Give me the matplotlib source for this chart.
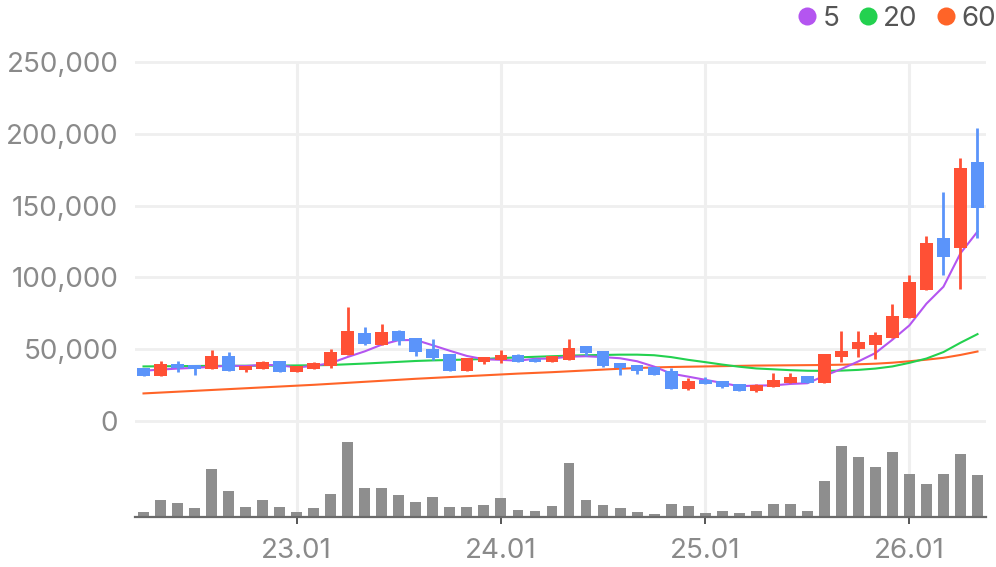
import matplotlib
matplotlib.use("Agg")
import matplotlib.pyplot as plt
from matplotlib.lines import Line2D

# ---- data ----
months = ["22.04","22.05","22.06","22.07","22.08","22.09","22.10","22.11","22.12","23.01",
          "23.02","23.03","23.04","23.05","23.06","23.07","23.08","23.09","23.10","23.11",
          "23.12","24.01","24.02","24.03","24.04","24.05","24.06","24.07","24.08","24.09",
          "24.10","24.11","24.12","25.01","25.02","25.03","25.04","25.05","25.06","25.07",
          "25.08","25.09","25.10","25.11","25.12","26.01","26.02","26.03","26.04","26.05"]

open_ = [36800, 31250, 39600, 38900, 36300, 45300, 35600, 36300, 41700, 34200,
         36300, 38200, 46300, 61100, 52800, 62500, 57600, 49800, 46500, 34900,
         41200, 42400, 45800, 43000, 41000, 42600, 52100, 48600, 40300, 38900,
         37500, 34700, 22400, 28500, 27800, 25700, 21000, 23400, 26200, 31200,
         26600, 44700, 50200, 53000, 57600, 71700, 91200, 127100, 120300, 180600]
high = [36800, 41700, 41700, 38900, 49300, 47900, 38400, 41700, 41700, 38200,
        41200, 50000, 79400, 65300, 67400, 63200, 57600, 56900, 46500, 43700,
        44400, 49300, 46500, 43700, 45100, 56900, 52100, 48600, 40300, 38900,
        37500, 36800, 29900, 30600, 27800, 25700, 25700, 33100, 33100, 31200,
        46500, 62500, 62500, 61800, 81200, 102000, 128500, 159700, 183300, 204200]
low = [31250, 31250, 34200, 31900, 36300, 34900, 34000, 36300, 34200, 34200,
       36300, 37000, 46300, 52800, 52800, 53000, 45300, 42800, 34900, 34900,
       39800, 40500, 41200, 41200, 41000, 42600, 45100, 37700, 32200, 32900,
       32200, 22400, 21700, 25900, 23100, 21000, 20300, 23400, 26200, 26600,
       26600, 41200, 44700, 43300, 57600, 71700, 91200, 101600, 91900, 127300]
close = [31250, 39600, 36800, 36000, 45300, 34900, 38400, 41000, 34200, 38200,
         40300, 47900, 62500, 53700, 61800, 55800, 48100, 44000, 34900, 43700,
         44400, 45800, 41200, 41200, 45100, 50700, 47200, 38400, 37000, 34900,
         32200, 22400, 28000, 25900, 23800, 21000, 25000, 28500, 30600, 26600,
         46500, 48800, 54900, 59700, 72900, 96500, 124300, 114100, 176400, 148100]

ma5 = [35000, 35800, 36500, 37000, 37800, 38500, 38300, 39100, 38800, 37300,
       38400, 40300, 44600, 48500, 53200, 56300, 56400, 52700, 48900, 45300,
       43000, 42600, 42000, 43300, 43500, 44800, 45100, 44500, 43700, 41600,
       37900, 33000, 30900, 28700, 26500, 24200, 24700, 24800, 25800, 26300,
       31400, 36200, 41500, 47300, 56600, 66600, 81700, 93500, 116800, 131900]
ma20 = [38000, 38100, 38200, 38300, 38400, 38400, 38500, 38500, 38600, 38700,
        38800, 39000, 39500, 40000, 40600, 41200, 41800, 42200, 42500, 42800,
        43200, 43800, 44300, 44700, 45100, 45500, 45800, 46000, 46200, 46200,
        45800, 44500, 42600, 41000, 39300, 37800, 36600, 36000, 35400, 35000,
        34900, 35100, 35600, 36500, 38000, 40500, 43500, 48000, 54500, 60500]
ma60 = [19200, 19800, 20400, 21000, 21600, 22200, 22800, 23400, 24000, 24600,
        25200, 25900, 26600, 27300, 28000, 28700, 29400, 30000, 30600, 31200,
        31800, 32400, 33000, 33500, 34000, 34600, 35200, 35800, 36400, 36900,
        37300, 37600, 37800, 38000, 38200, 38400, 38600, 38700, 38800, 38900,
        39000, 39200, 39500, 39900, 40600, 41600, 42700, 44000, 46000, 48400]

volume = [5.0, 16.7, 13.7, 8.7, 47.7, 25.7, 9.7, 16.7, 9.7, 4.7,
          8.7, 22.7, 74.7, 28.7, 28.7, 21.7, 14.7, 19.7, 9.7, 9.7,
          11.7, 18.7, 6.7, 5.7, 10.7, 53.7, 16.7, 11.7, 8.7, 4.7,
          2.7, 12.7, 10.7, 3.7, 5.7, 3.7, 5.7, 12.7, 12.7, 5.7,
          35.7, 70.7, 59.7, 49.7, 64.7, 42.7, 32.7, 42.7, 62.7, 41.7]

price_ticks = [0, 50000, 100000, 150000, 200000, 250000]
price_tick_labels = ["0", "50,000", "100,000", "150,000", "200,000", "250,000"]
x_tick_labels = ["23.01", "24.01", "25.01", "26.01"]
ma_labels = ["5", "20", "60"]

# ---- style ----
UP = "#FF5035"
DOWN = "#5B94FA"
MA_COLORS = ["#B455F0", "#23D14F", "#FF6428"]
GRID = "#EFEFEF"
LABEL = "#8A8A8A"
FONT = ["Inter", "DejaVu Sans"]
plt.rcParams["font.family"] = FONT

W, H = 996, 567
fig = plt.figure(figsize=(W / 100, H / 100), dpi=100)

def fr(x0, y0, x1, y1):
    return [x0 / W, 1 - y1 / H, (x1 - x0) / W, (y1 - y0) / H]

n = len(months)
xs = list(range(n))
xlim = (-0.5, n - 0.5)
x_tick_pos = [months.index(t) for t in x_tick_labels]

# price axes (0 at y=421, 250k at y=62)
scale = (421 - 62) / 250000.0
top_px, bot_px = 56, 430
ax = fig.add_axes(fr(135, top_px, 986, bot_px))
ax.set_xlim(*xlim)
ax.set_ylim(-(bot_px - 421) / scale, 250000 + (62 - top_px) / scale)
for s in ax.spines.values():
    s.set_visible(False)
ax.set_yticks(price_ticks)
ax.set_yticklabels(price_tick_labels)
ax.tick_params(axis="y", length=0, pad=12, labelsize=20, labelcolor=LABEL)
ax.set_xticks([])
ax.yaxis.grid(True, color=GRID, linewidth=2.0, zorder=0)
ax.set_axisbelow(True)
ax.vlines(x_tick_pos, ax.get_ylim()[0], 250000, color=GRID, linewidth=2.2, zorder=0)

# moving averages
for vals, c in zip([ma60, ma20, ma5], MA_COLORS[::-1]):
    ax.plot(xs, vals, color=c, linewidth=1.5, zorder=2, solid_joinstyle="round")

# candles
for i in xs:
    o, h, l, c = open_[i], high[i], low[i], close[i]
    col = UP if c >= o else DOWN
    ax.vlines(i, l, h, color=col, linewidth=2.0, zorder=3)
    ax.bar(i, abs(c - o), bottom=min(o, c), width=0.75, color=col, zorder=4, linewidth=0)

# volume axes
vax = fig.add_axes(fr(135, 430, 986, 516.7))
vax.set_xlim(*xlim)
vax.set_ylim(0, 86.7)
vax.bar(xs, volume, width=0.64, color="#8E8E8E", zorder=3)
for k in ["top", "left", "right"]:
    vax.spines[k].set_visible(False)
vax.spines["bottom"].set_color("#6A6A6A")
vax.spines["bottom"].set_linewidth(1.6)
vax.spines["bottom"].set_zorder(5)
vax.set_yticks([])
vax.set_xticks(x_tick_pos)
vax.set_xticklabels(x_tick_labels)
vax.tick_params(axis="x", length=5, width=1.4, color="#555555", pad=10,
                labelsize=20, labelcolor=LABEL)
vax.xaxis.grid(True, color=GRID, linewidth=2.2, zorder=0)
vax.set_axisbelow(True)

# legend (top right)
leg_pos = [(807, 883 - 15), (868, 883), (945.5, 961)]
leg_items = [(807, 823), (868, 883), (945.5, 961)]
for (cx, tx), c, lab in zip(leg_items, MA_COLORS, ma_labels):
    fig.add_artist(Line2D([cx / W], [1 - 16 / H], marker="o", markersize=13,
                          color=c, markeredgewidth=0, transform=fig.transFigure))
    fig.text(tx / W, 1 - 16 / H, lab, color="#555555", fontsize=20,
             ha="left", va="center_baseline")

fig.savefig("out.png", dpi=100)
